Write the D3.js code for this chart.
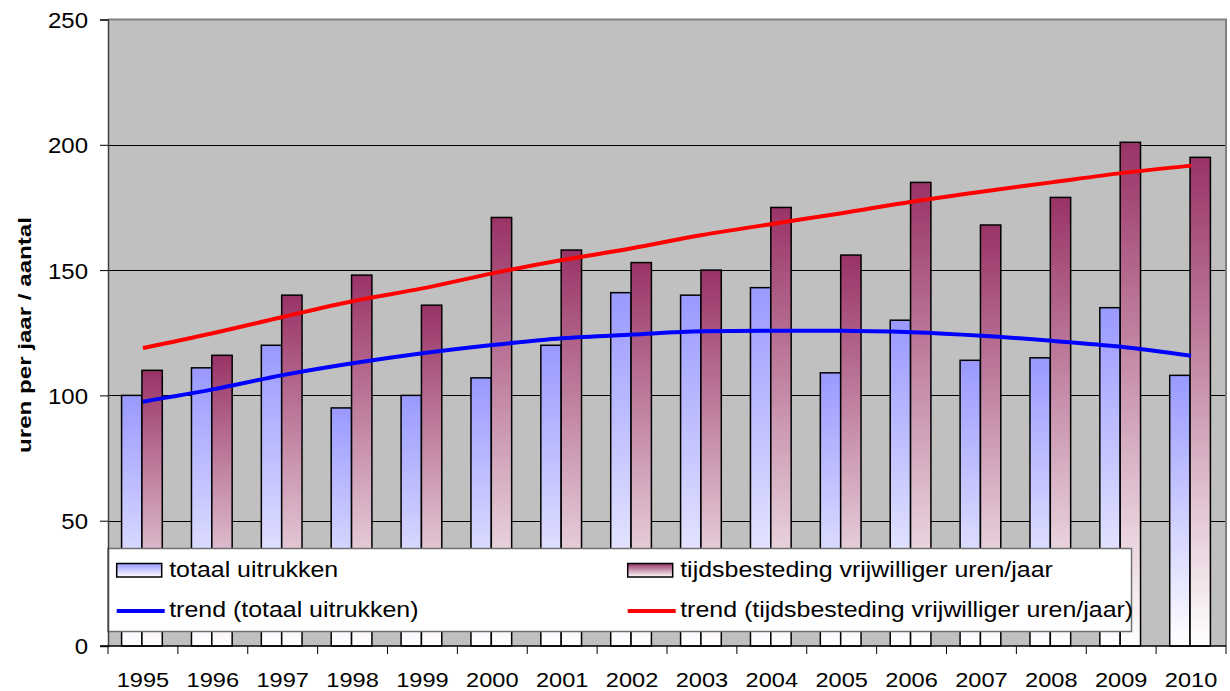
<!DOCTYPE html>
<html><head><meta charset="utf-8">
<script src="https://cdn.jsdelivr.net/npm/d3@7"></script>
<style>
body{margin:0;background:#fff}
svg{display:block}
text{font-family:"Liberation Sans",Arial,sans-serif;fill:#000}
</style>
</head><body>
<svg id="c" width="1230" height="691"></svg>
<script>
const years = ["1995","1996","1997","1998","1999","2000","2001","2002","2003","2004","2005","2006","2007","2008","2009","2010"];
const uitrukken = [100,111,120,95,100,107,120,141,140,143,109,130,114,115,135,108];
const vrijwilliger = [110,116,140,148,136,171,158,153,150,175,156,185,168,179,201,195];
const trendUitrukken = [97.5,102.4,108.1,112.8,116.8,120.1,122.8,124.3,125.6,125.8,125.8,125.2,123.8,121.8,119.4,115.8];
const trendVrijwilliger = [118.9,124.8,131.3,137.6,142.7,148.7,154.0,158.7,164.0,168.4,172.7,177.3,181.3,185.0,188.7,191.7];
const yTicks = [0,50,100,150,200,250];
const barNames = ["totaal uitrukken","tijdsbesteding vrijwilliger uren/jaar"];
const trendNames = ["trend (totaal uitrukken)","trend (tijdsbesteding vrijwilliger uren/jaar)"];
const yLabel = "uren per jaar / aantal";

const svg = d3.select("#c");
const L = 108, R = 1226, T = 19.5, B = 646;
const x = d3.scaleBand(years, [L, R]).padding(0);
const x1 = d3.scaleBand(["u","v"], [0, x.bandwidth()]).paddingInner(0).paddingOuter(0.717);
const y = d3.scaleLinear([0, 250], [B, T]);

const defs = svg.append("defs");
function grad(id, top) {
  const g = defs.append("linearGradient").attr("id", id).attr("x1",0).attr("y1",0).attr("x2",0).attr("y2",1);
  g.append("stop").attr("offset","0%").attr("stop-color",top);
  g.append("stop").attr("offset","100%").attr("stop-color","#ffffff");
}
grad("gU", "#9999ff");
grad("gV", "#993366");

// plot background
svg.append("rect").attr("x",L).attr("y",T).attr("width",R-L).attr("height",B-T).attr("fill","#c0c0c0");

// gridlines
svg.append("g").selectAll("line").data(yTicks.filter(d=>d>0 && d<250)).join("line")
  .attr("x1",L).attr("x2",R).attr("y1",d=>Math.round(y(d))+0.5).attr("y2",d=>Math.round(y(d))+0.5)
  .attr("stroke","#000").attr("stroke-width",1);

// borders top/right
svg.append("path").attr("d",`M${L},${T}H${R}V${B}`).attr("fill","none").attr("stroke","#808080").attr("stroke-width",2);

// bars
const groups = svg.append("g").selectAll("g").data(years).join("g")
  .attr("transform", d=>`translate(${x(d)-1},0)`);
groups.append("rect")
  .attr("x", x1("u")).attr("width", x1.bandwidth())
  .attr("y", (d,i)=>y(uitrukken[i])).attr("height",(d,i)=>B-y(uitrukken[i]))
  .attr("fill","url(#gU)").attr("stroke","#000").attr("stroke-width",1.5);
groups.append("rect")
  .attr("x", x1("v")).attr("width", x1.bandwidth())
  .attr("y", (d,i)=>y(vrijwilliger[i])).attr("height",(d,i)=>B-y(vrijwilliger[i]))
  .attr("fill","url(#gV)").attr("stroke","#000").attr("stroke-width",1.5);

// trend lines
const cx = d => x(d) + x.bandwidth()/2;
const line = arr => d3.line().x(d=>cx(d)).y((d,i)=>y(arr[i])).curve(d3.curveMonotoneX)(years);
svg.append("path").attr("d", line(trendUitrukken)).attr("fill","none").attr("stroke","#0000ff").attr("stroke-width",4);
svg.append("path").attr("d", line(trendVrijwilliger)).attr("fill","none").attr("stroke","#ff0000").attr("stroke-width",4);

// legend
const lg = svg.append("g");
lg.append("rect").attr("x",L).attr("y",548.5).attr("width",1131.5-L).attr("height",83)
  .attr("fill","#fff").attr("stroke","#707070").attr("stroke-width",1.5);
const cols = [116.7, 627.7];
const rows = [570, 611];
cols.forEach((cxp, k) => {
  lg.append("rect").attr("x",cxp).attr("y",rows[0]-6.5).attr("width",45).attr("height",13.5)
    .attr("fill", k===0 ? "url(#gU)" : "url(#gV)").attr("stroke","#000").attr("stroke-width",1.5);
  lg.append("text").attr("transform",`translate(${cxp+52.5},${rows[0]+7}) scale(1.16,1)`)
    .attr("font-size",21.5).text(barNames[k]);
  lg.append("line").attr("x1",cxp).attr("x2",cxp+48).attr("y1",rows[1]).attr("y2",rows[1])
    .attr("stroke", k===0 ? "#0000ff" : "#ff0000").attr("stroke-width",4);
  lg.append("text").attr("transform",`translate(${cxp+52.5},${rows[1]+6}) scale(1.16,1)`)
    .attr("font-size",21.5).text(trendNames[k]);
});

// y axis
const ya = svg.append("g").attr("transform",`translate(${L},0)`)
  .call(d3.axisLeft(y).tickValues(yTicks).tickSize(8).tickPadding(0).tickFormat(d3.format("d")));
ya.select(".domain").attr("stroke","#404040").attr("stroke-width",1.5);
ya.selectAll(".tick line").attr("stroke","#000");
ya.selectAll(".tick text").attr("x",null).attr("dy","0.36em")
  .attr("transform","translate(-20,0) scale(1.09,1)")
  .attr("font-size",22).attr("font-family",null).attr("fill","#000");

// x axis
const xa = svg.append("g");
xa.append("line").attr("x1",L-8).attr("x2",R).attr("y1",B).attr("y2",B).attr("stroke","#000").attr("stroke-width",1.5);
xa.selectAll(".xt").data(years.concat(["end"])).join("line").attr("class","xt")
  .attr("x1",(d,i)=> i<years.length ? x(d) : R).attr("x2",(d,i)=> i<years.length ? x(d) : R)
  .attr("y1",B).attr("y2",B+8).attr("stroke","#000").attr("stroke-width",1);
xa.selectAll(".xl").data(years).join("text").attr("class","xl")
  .attr("transform", d=>`translate(${cx(d)},687) scale(1.15,1)`)
  .attr("text-anchor","middle").attr("font-size",20.5).text(d=>d);

// y label
svg.append("text").attr("transform","translate(31,335) rotate(-90) scale(1.27,1)")
  .attr("text-anchor","middle").attr("font-size",19).attr("font-weight","bold").text(yLabel);
</script>
</body></html>
